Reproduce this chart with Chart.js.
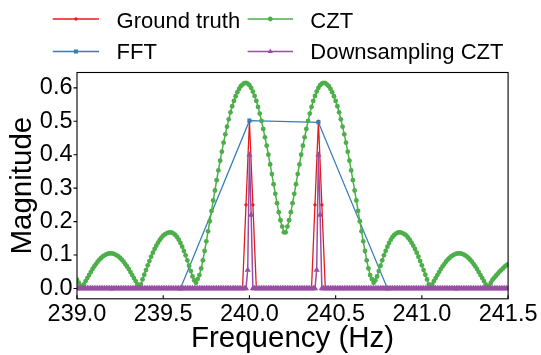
<!DOCTYPE html>
<html><head><meta charset="utf-8">
<script src="https://cdn.jsdelivr.net/npm/chart.js@4.4.0/dist/chart.umd.min.js"></script>
<style>html,body{margin:0;padding:0;background:#fff;overflow:hidden}#wrap{position:relative;width:541px;height:355px}</style>
</head><body><div id="wrap"><canvas id="c" width="541" height="355"></canvas></div>
<script>
// ---------------- data ----------------
const seriesNames = ['Ground truth', 'FFT', 'CZT', 'Downsampling CZT'];
const xTicks = [239.0, 239.5, 240.0, 240.5, 241.0, 241.5];
const yTicks = [0.0, 0.1, 0.2, 0.3, 0.4, 0.5, 0.6];

// CZT: frequency grid 239.00 .. 241.50, step 0.01 Hz
const cztStart = 239.0, cztStep = 0.01;
const cztMag = [
0.026,0.017,0.008,0.003,0.012,0.022,0.031,0.040,0.049,0.058,
0.066,0.073,0.080,0.086,0.091,0.096,0.099,0.102,0.104,0.105,
0.105,0.104,0.102,0.099,0.096,0.091,0.086,0.080,0.073,0.066,
0.058,0.049,0.040,0.031,0.022,0.012,0.004,0.012,0.027,0.041,
0.055,0.069,0.082,0.095,0.107,0.118,0.128,0.137,0.145,0.152,
0.158,0.162,0.165,0.167,0.168,0.167,0.164,0.160,0.154,0.146,
0.136,0.125,0.112,0.099,0.084,0.068,0.052,0.036,0.024,0.017,
0.028,0.040,0.060,0.084,0.112,0.141,0.171,0.201,0.232,0.263,
0.293,0.324,0.353,0.382,0.409,0.436,0.461,0.484,0.506,0.527,
0.545,0.561,0.575,0.587,0.597,0.605,0.610,0.614,0.615,0.613,
0.608,0.600,0.589,0.576,0.561,0.543,0.523,0.501,0.477,0.452,
0.427,0.400,0.371,0.342,0.312,0.283,0.255,0.228,0.204,0.185,
0.168,0.168,0.185,0.204,0.228,0.255,0.283,0.312,0.342,0.371,
0.400,0.427,0.452,0.477,0.501,0.523,0.543,0.561,0.576,0.589,
0.600,0.608,0.613,0.615,0.614,0.610,0.605,0.597,0.587,0.575,
0.561,0.545,0.527,0.506,0.484,0.461,0.436,0.409,0.382,0.353,
0.324,0.293,0.263,0.232,0.201,0.171,0.141,0.112,0.084,0.060,
0.040,0.028,0.017,0.024,0.036,0.052,0.068,0.084,0.099,0.112,
0.125,0.136,0.146,0.154,0.160,0.164,0.167,0.168,0.167,0.165,
0.162,0.158,0.152,0.145,0.137,0.128,0.118,0.107,0.095,0.082,
0.069,0.055,0.041,0.027,0.012,0.004,0.012,0.022,0.031,0.040,
0.049,0.058,0.066,0.073,0.080,0.086,0.091,0.096,0.099,0.102,
0.104,0.105,0.105,0.104,0.102,0.099,0.096,0.091,0.086,0.080,
0.073,0.066,0.058,0.049,0.040,0.031,0.022,0.012,0.003,0.008,
0.017,0.026,0.032,0.038,0.044,0.050,0.055,0.060,0.065,0.069,
0.073
];

// Ground truth: grid 239.00 .. 241.50, step 0.02 Hz
const gtStart = 239.0, gtStep = 0.02;
const gtMag = [
0,0,0,0,0,0,0,0,0,0,
0,0,0,0,0,0,0,0,0,0,
0,0,0,0,0,0,0,0,0,0,
0,0,0,0,0,0,0,0,0,0,
0,0,0,0,0,0,0,0,0,0.25,
0.5,0.25,0,0,0,0,0,0,0,0,
0,0,0,0,0,0,0,0,0,0.25,
0.5,0.25,0,0,0,0,0,0,0,0,
0,0,0,0,0,0,0,0,0,0,
0,0,0,0,0,0,0,0,0,0,
0,0,0,0,0,0,0,0,0,0,
0,0,0,0,0,0,0,0,0,0,
0,0,0,0,0,0
];

// Downsampling CZT: grid 239.00 .. 241.50, step 0.01 Hz
const dsStart = 239.0, dsStep = 0.01;
const dsMag = [
0,0,0,0,0,0,0,0,0,0,
0,0,0,0,0,0,0,0,0,0,
0,0,0,0,0,0,0,0,0,0,
0,0,0,0,0,0,0,0,0,0,
0,0,0,0,0,0,0,0,0,0,
0,0,0,0,0,0,0,0,0,0,
0,0,0,0,0,0,0,0,0,0,
0,0,0,0,0,0,0,0,0,0,
0,0,0,0,0,0,0,0,0,0,
0,0,0,0,0,0,0,0,0,0.055,
0.40,0.22,0,0,0,0,0,0,0,0,
0,0,0,0,0,0,0,0,0,0,
0,0,0,0,0,0,0,0,0,0,
0,0,0,0,0,0,0,0,0,0.055,
0.40,0.22,0,0,0,0,0,0,0,0,
0,0,0,0,0,0,0,0,0,0,
0,0,0,0,0,0,0,0,0,0,
0,0,0,0,0,0,0,0,0,0,
0,0,0,0,0,0,0,0,0,0,
0,0,0,0,0,0,0,0,0,0,
0,0,0,0,0,0,0,0,0,0,
0,0,0,0,0,0,0,0,0,0,
0,0,0,0,0,0,0,0,0,0,
0,0,0,0,0,0,0,0,0,0,
0,0,0,0,0,0,0,0,0,0,
0
];

// FFT: bins every 0.4 Hz
const fftFreq = [238.8, 239.2, 239.6, 240.0, 240.4, 240.8, 241.2, 241.6];
const fftMag  = [0, 0, 0, 0.502, 0.497, 0, 0, 0];

// ---------------- build ----------------
function grid(start, step, vals){ return vals.map((v,i)=>({x:+(start+i*step).toFixed(4), y:v})); }
const FONT = "'Liberation Sans', Arial, Helvetica, sans-serif";
Chart.defaults.font.family = FONT;
Chart.defaults.color = '#000';

const colors = ['#e41a1c', '#377eb8', '#4daf4a', '#984ea3'];
const styles = [
  {pointStyle:'circle', r:1.7, lw:1.3},
  {pointStyle:'rect', r:2.9, lw:1.3},
  {pointStyle:'circle', r:2.4, lw:1.5},
  {pointStyle:'triangle', r:3.6, lw:1.5}
];
const dataArrays = [
  grid(gtStart, gtStep, gtMag),
  fftFreq.map((f,i)=>({x:f, y:fftMag[i]})),
  grid(cztStart, cztStep, cztMag),
  grid(dsStart, dsStep, dsMag)
];
const orders = [4,3,2,1];

const datasets = seriesNames.map((n,i)=>({
  label:n, data:dataArrays[i], order:orders[i],
  borderColor:colors[i], backgroundColor:colors[i], borderWidth:styles[i].lw,
  pointStyle:styles[i].pointStyle, pointRadius:styles[i].r, pointHoverRadius:styles[i].r,
  pointBackgroundColor:colors[i], pointBorderColor:colors[i], pointBorderWidth:0,
  tension:0, fill:false, clip:0
}));

const frame = {
  id:'frame',
  afterDatasetsDraw(chart){
    const {ctx, chartArea:a, scales:{x,y}} = chart;
    ctx.save();
    ctx.strokeStyle='#000'; ctx.lineWidth=1.1;
    ctx.strokeRect(a.left, a.top, a.right-a.left, a.bottom-a.top);
    ctx.beginPath();
    x.ticks.forEach(t=>{const p=x.getPixelForValue(t.value); ctx.moveTo(p,a.bottom); ctx.lineTo(p,a.bottom-3.5);});
    y.ticks.forEach(t=>{const p=y.getPixelForValue(t.value); ctx.moveTo(a.left,p); ctx.lineTo(a.left-3.5,p);});
    ctx.stroke();
    ctx.restore();
  }
};

const legendLayout = {cols:[{x0:52.8,x1:99,tx:116.6},{x0:247.6,x1:293,tx:310.3}], rows:[19,51.5], base:[27.6,59.3]};
const legendSlots = [{col:0,row:0},{col:0,row:1},{col:1,row:0},{col:1,row:1}];
const customLegend = {
  id:'customLegend',
  afterDraw(chart){
    const ctx = chart.ctx;
    ctx.save();
    chart.data.datasets.forEach((ds,i)=>{
      const s = legendSlots[i], c = legendLayout.cols[s.col], y = legendLayout.rows[s.row];
      ctx.strokeStyle = ds.borderColor; ctx.lineWidth = 1.5;
      ctx.beginPath(); ctx.moveTo(c.x0,y); ctx.lineTo(c.x1,y); ctx.stroke();
      ctx.fillStyle = ds.borderColor;
      Chart.helpers.drawPoint(ctx, {pointStyle:ds.pointStyle, radius:Math.min(ds.pointRadius,3), rotation:0, borderWidth:0}, (c.x0+c.x1)/2, y);
      ctx.fillStyle = '#000';
      ctx.font = '22px ' + FONT;
      ctx.textBaseline = 'alphabetic'; ctx.textAlign = 'left';
      ctx.fillText(ds.label, c.tx, legendLayout.base[s.row]);
    });
    ctx.restore();
  }
};

new Chart(document.getElementById('c'), {
  type:'line',
  data:{datasets},
  options:{
    responsive:false, animation:false, devicePixelRatio:1,
    layout:{padding:{top:72.5, right:32, left:0, bottom:0}},
    plugins:{legend:{display:false}, tooltip:{enabled:false}},
    events:[],
    scales:{
      x:{
        type:'linear', min:239, max:241.5,
        afterBuildTicks:s=>{s.ticks = xTicks.map(v=>({value:v}));},
        afterFit:s=>{s.height = 56.2;},
        grid:{display:false, drawTicks:false}, border:{display:false},
        ticks:{padding:3.5, font:{size:23.5, lineHeight:1}, color:'#000', callback:v=>Number(v).toFixed(1), maxRotation:0, autoSkip:false},
        title:{display:true, text:'Frequency (Hz)', font:{size:29.5, lineHeight:1}, color:'#000', padding:{top:0,bottom:1.0}}
      },
      y:{
        type:'linear', min:-0.031, max:0.646,
        afterBuildTicks:s=>{s.ticks = yTicks.map(v=>({value:v}));},
        afterFit:s=>{s.width = 77;},
        grid:{display:false, drawTicks:false}, border:{display:false},
        ticks:{padding:4.5, font:{size:23.5, lineHeight:1}, color:'#000', callback:v=>Number(v).toFixed(1), autoSkip:false},
        title:{display:true, text:'Magnitude', font:{size:29.5, lineHeight:1}, color:'#000', padding:{top:8.0,bottom:0}}
      }
    }
  },
  plugins:[frame, customLegend]
});
</script>
</body></html>
